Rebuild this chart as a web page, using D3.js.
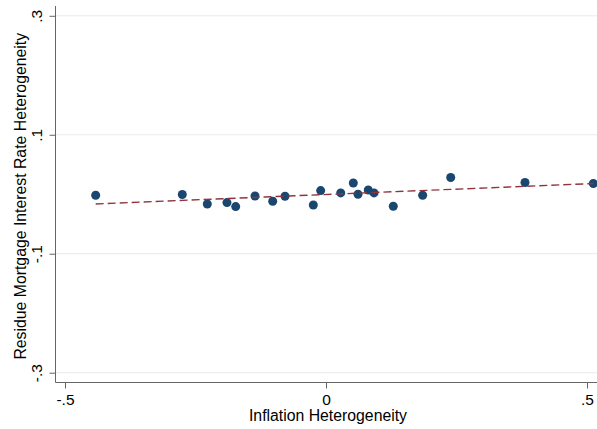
<!DOCTYPE html>
<html>
<head>
<meta charset="utf-8">
<script src="https://cdn.jsdelivr.net/npm/d3@7"></script>
<style>
  html, body { margin: 0; padding: 0; background: #fff; }
  svg { display: block; font-family: "Liberation Sans", Arial, Helvetica, sans-serif; }
</style>
</head>
<body>
<svg id="chart" width="597" height="429"></svg>
<script>
// Binned scatter: inflation heterogeneity vs. residual mortgage rate heterogeneity
const inflationX = [-0.4412, -0.2753, -0.2274, -0.1897, -0.1730, -0.1360, -0.1021, -0.0785,
  -0.0243, -0.0102, 0.0282, 0.0523, 0.0613, 0.0810, 0.0920, 0.1289, 0.1852, 0.2389, 0.3812, 0.5121];
const residueY = [-0.0017, -0.0005, -0.0163, -0.0140, -0.0207, -0.0029, -0.0118, -0.0034,
  -0.0180, 0.0062, 0.0022, 0.0190, 0.0000, 0.0072, 0.0022, -0.0202, -0.0017, 0.0281, 0.0197, 0.0180];

// Linear fit coefficients [intercept, slope]
const fitCoef = [-0.0004, 0.0360];

const xTicks = [-0.5, 0, 0.5];
const xTickLabels = ["-.5", "0", ".5"];
const yTicks = [0.3, 0.1, -0.1, -0.3];
const yTickLabels = [".3", ".1", "-.1", "-.3"];

const xTitle = "Inflation Heterogeneity";
const yTitle = "Residue Mortgage Interest Rate Heterogeneity";

const svg = d3.select("#chart");
const W = 597;
const axisX = 55.5, axisY = 382.5;
const fontSize = 15.5;

const x = d3.scaleLinear().domain([-0.5, 0.5]).range([65, 587]);
const y = d3.scaleLinear().domain([-0.3, 0.3]).range([372.7, 15.8]);

// horizontal grid lines
svg.append("g")
  .selectAll("line")
  .data(yTicks)
  .join("line")
  .attr("x1", axisX).attr("x2", W)
  .attr("y1", d => y(d)).attr("y2", d => y(d))
  .attr("stroke", "#eaeaea").attr("stroke-width", 1);

// y axis
const yAxis = d3.axisLeft(y).tickValues(yTicks)
  .tickFormat((d, i) => yTickLabels[i]).tickSize(6);
const gy = svg.append("g").attr("transform", `translate(${axisX},0)`).call(yAxis);
gy.select(".domain").remove();
gy.selectAll(".tick line").attr("stroke", "#666");
gy.selectAll(".tick text")
  .attr("font-size", fontSize).attr("fill", "#000")
  .attr("text-anchor", "middle")
  .attr("x", null).attr("y", null).attr("dy", null)
  .attr("transform", "translate(-13.5,0) rotate(-90)");
svg.append("line")
  .attr("x1", axisX).attr("x2", axisX)
  .attr("y1", 6).attr("y2", axisY)
  .attr("stroke", "#666").attr("stroke-width", 1);

// x axis
const xAxis = d3.axisBottom(x).tickValues(xTicks)
  .tickFormat((d, i) => xTickLabels[i]).tickSize(6);
const gx = svg.append("g").attr("transform", `translate(0,${axisY})`).call(xAxis);
gx.select(".domain").remove();
gx.selectAll(".tick line").attr("stroke", "#666");
gx.selectAll(".tick text")
  .attr("font-size", fontSize).attr("fill", "#000")
  .attr("y", 22.5).attr("dy", null);
svg.append("line")
  .attr("x1", axisX).attr("x2", W)
  .attr("y1", axisY).attr("y2", axisY)
  .attr("stroke", "#666").attr("stroke-width", 1);

// axis titles
svg.append("text")
  .attr("x", x(0)+2).attr("y", 420.5)
  .attr("text-anchor", "middle").attr("font-size", fontSize + 0.3).attr("fill", "#000")
  .text(xTitle);
svg.append("text")
  .attr("transform", `translate(25.5,${y(0) + 2}) rotate(-90)`)
  .attr("text-anchor", "middle").attr("font-size", fontSize + 0.3).attr("fill", "#000")
  .text(yTitle);

// points
const pts = inflationX.map((v, i) => ({ x: v, y: residueY[i] }));
svg.append("g")
  .selectAll("circle")
  .data(pts)
  .join("circle")
  .attr("cx", d => x(d.x)).attr("cy", d => y(d.y))
  .attr("r", 4.5)
  .attr("fill", "#1a476f");

// fitted line over the range of the data
const [xmin, xmax] = d3.extent(inflationX);
const fit = v => fitCoef[0] + fitCoef[1] * v;
svg.append("line")
  .attr("x1", x(xmin)).attr("y1", y(fit(xmin)))
  .attr("x2", x(xmax)).attr("y2", y(fit(xmax)))
  .attr("stroke", "#90353b").attr("stroke-width", 1.4)
  .attr("stroke-dasharray", "8,4");
</script>
</body>
</html>
